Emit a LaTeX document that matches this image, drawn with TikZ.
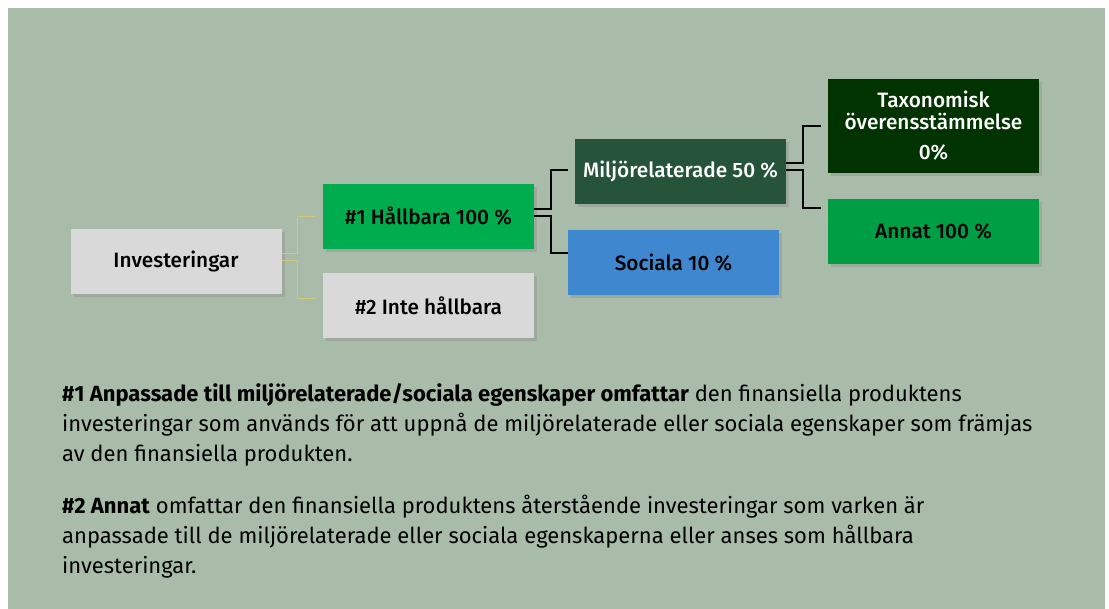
\documentclass[tikz,border=0pt]{standalone}
\usepackage{fontspec}
\setmainfont{Fira Sans}
\newfontfamily\medfont{Fira Sans}[UprightFont=* Medium]
\usetikzlibrary{shadows}

\definecolor{sage}{HTML}{A9BCA9}
\definecolor{boxgray}{HTML}{D9D9D9}
\definecolor{hallgreen}{HTML}{00AD4E}
\definecolor{miljogreen}{HTML}{26543A}
\definecolor{socblue}{HTML}{3F88CF}
\definecolor{taxgreen}{HTML}{003300}
\definecolor{annatgreen}{HTML}{009E44}
\definecolor{linkyellow}{HTML}{D2C77A}

\begin{document}
\begin{tikzpicture}[
  x=1pt, y=-1pt,
  box/.style={minimum width=211pt, minimum height=65pt, inner sep=0pt,
    align=center, font=\medfont\fontsize{20.8}{22}\selectfont,
    drop shadow={opacity=0.3, shadow xshift=3pt, shadow yshift=-3pt}},
  link/.style={line width=2.4pt, black},
  thinlink/.style={line width=1pt, linkyellow}
]
\useasboundingbox (0,0) rectangle (1109,609);
\fill[sage] (8,8) rectangle (1105,609);

% Tree boxes
\node[box, fill=boxgray] (inv) at (176,261.5) {Investeringar};
\node[box, fill=hallgreen] (hall) at (428.5,216.5) {\#1 Hållbara 100 \%};
\node[box, fill=boxgray] (nothall) at (428.5,306) {\#2 Inte hållbara};
\node[box, fill=miljogreen, text=white] (miljo) at (680.5,171.5) {Miljörelaterade 50 \%};
\node[box, fill=socblue] (soc) at (673.5,262.5) {Sociala 10 \%};
\node[box, fill=taxgreen, text=white, minimum height=94pt] (tax) at (933.5,126)
  {Taxonomisk\\överensstämmelse\\[8pt]0\%};
\node[box, fill=annatgreen] (annat) at (933.5,231.5) {Annat 100 \%};

% Connectors
\draw[thinlink] ([yshift=7.5pt]inv.east) -- ++(16,0) |- ([xshift=-8pt]hall.west);
\draw[thinlink] ([yshift=0.5pt]inv.east) -- ++(16,0) |- ([xshift=-8pt,yshift=7pt]nothall.west);
\draw[link] ([yshift=7.5pt]hall.east) -- ++(17,0) |- ([xshift=-7pt,yshift=1.5pt]miljo.west);
\draw[link] ([yshift=0.5pt]hall.east) -- ++(17,0) |- ([yshift=9.5pt]soc.west);
\draw[link] ([yshift=8.5pt]miljo.east) -- ++(17,0) |- ([xshift=-7pt]tax.west);
\draw[link] ([yshift=1.5pt]miljo.east) -- ++(17,0) |- ([xshift=-7pt,yshift=23.5pt]annat.west);

% Explanations
\node[anchor=north west, align=left, inner sep=0pt,
  font=\fontsize{22}{30}\selectfont] (notes) at (62,383)
  {\textbf{\#1 Anpassade till miljörelaterade/sociala egenskaper omfattar} den finansiella produktens\\
   investeringar som används för att uppnå de miljörelaterade eller sociala egenskaper som främjas\\
   av den finansiella produkten.\\[22pt]
   \textbf{\#2 Annat} omfattar den finansiella produktens återstående investeringar som varken är\\
   anpassade till de miljörelaterade eller sociala egenskaperna eller anses som hållbara\\
   investeringar.};
\end{tikzpicture}
\end{document}
